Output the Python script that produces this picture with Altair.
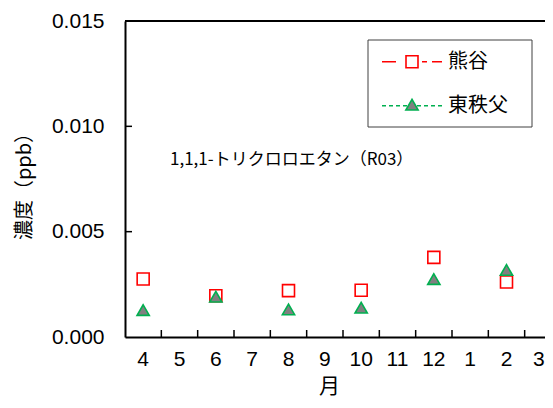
import altair as alt
import pandas as pd

# ---- data ----
months = ["4", "5", "6", "7", "8", "9", "10", "11", "12", "1", "2", "3"]
sample_months = ["4", "6", "8", "10", "12", "2"]
kumagaya = [0.00275, 0.00196, 0.00220, 0.00222, 0.00378, 0.00261]
higashichichibu = [0.00128, 0.00191, 0.00131, 0.00139, 0.00275, 0.00318]
series_names = ["熊谷", "東秩父"]
y_tick_values = [0.0, 0.005, 0.010, 0.015]
inner_y_ticks = [0.005, 0.010]
boundary_months = months[:-1]
annotation = "1,1,1-トリクロロエタン（R03）"
x_title = "月"
y_title = "濃度（ppb）"

# ---- layout ----
W = 420          # visible plot width (svg must fit the window)
X_RANGE = 436    # full band range (runs past the window edge like the reference)
H = 316
JP = "Noto Sans CJK JP"
NUM = "Liberation Sans"
RED = "#FF0000"
GREEN = "#00B050"
GRAY = "#808080"

df = pd.DataFrame({
    "month": sample_months * 2,
    "value": kumagaya + higashichichibu,
    "site": [series_names[0]] * len(kumagaya) + [series_names[1]] * len(higashichichibu),
})
one = alt.InlineData(values=[{}])

x_scale = alt.Scale(type="band", domain=months, range=[0, X_RANGE], paddingInner=0, paddingOuter=0)
y_scale = alt.Scale(domain=[0, 0.015], nice=False, zero=True)

last_month = months[-1]
x_axis = alt.Axis(
    labelAngle=0, labelFontSize=21, labelFont=NUM, labelColor="black", labelPadding=11,
    labelOffset=alt.expr(f"datum.value == '{last_month}' ? -4 : 0"),
    tickSize=0, ticks=False, domainColor="black", domainWidth=2, grid=False,
    title=x_title, titleFont=JP, titleFontSize=21, titleFontWeight="normal", titleColor="black",
    titleX=204, titleY=49, titleBaseline="middle", titleAlign="center",
)
y_axis = alt.Axis(
    values=y_tick_values, format=".3f", labelFontSize=21, labelFont=NUM, labelColor="black",
    labelPadding=21, tickSize=0, ticks=False, domainColor="black", domainWidth=2, grid=False,
    title=y_title, titleFont=JP, titleFontSize=20, titleFontWeight="normal", titleColor="black",
    titleAngle=270, titleX=-101, titleY=160, titleBaseline="middle", titleAlign="center",
)

base = alt.Chart(df)

squares = base.transform_filter(alt.datum.site == series_names[0]).mark_point(
    shape="square", size=144, filled=True, fill="white", stroke=RED, strokeWidth=1.6, opacity=1
).encode(
    x=alt.X("month:N", scale=x_scale, axis=x_axis),
    y=alt.Y("value:Q", scale=y_scale, axis=y_axis),
)
triangles = base.transform_filter(alt.datum.site == series_names[1]).mark_point(
    shape="triangle-up", size=150, filled=True, fill=GRAY, stroke=GREEN, strokeWidth=1.6, opacity=1
).encode(
    x=alt.X("month:N", scale=x_scale, axis=x_axis),
    y=alt.Y("value:Q", scale=y_scale, axis=y_axis),
)

# top frame line
top_line = alt.Chart(one).mark_rule(color="black", strokeWidth=2).encode(
    x=alt.value(0), x2=alt.value(X_RANGE), y=alt.value(0)
)

# inward ticks
y_ticks = alt.Chart(pd.DataFrame({"value": inner_y_ticks})).mark_rule(color="black", strokeWidth=1.5).encode(
    y=alt.Y("value:Q", scale=y_scale, axis=y_axis), x=alt.value(0), x2=alt.value(7)
)
x_ticks = alt.Chart(pd.DataFrame({"month": boundary_months})).mark_rule(color="black", strokeWidth=1.5).encode(
    x=alt.X("month:N", scale=x_scale, axis=x_axis, bandPosition=1), y=alt.value(H), y2=alt.value(H - 7)
)

# annotation
note = alt.Chart(one).mark_text(
    align="left", baseline="middle", font=JP, fontSize=17, color="black"
).encode(x=alt.value(45), y=alt.value(139), text=alt.value(annotation))

# legend (drawn by hand)
LX0, LX1, LY0, LY1 = 243, 407, 19, 106
ROW1, ROW2 = 40.7, 84.7
legend_box = alt.Chart(one).mark_rect(fill="white", stroke="#404040", strokeWidth=1).encode(
    x=alt.value(LX0), x2=alt.value(LX1), y=alt.value(LY0), y2=alt.value(LY1)
)
leg_line1 = alt.Chart(one).mark_rule(color=RED, strokeWidth=1.6, strokeDash=[14, 26, 5, 5, 10]).encode(
    x=alt.value(257), x2=alt.value(317), y=alt.value(ROW1)
)
leg_line2 = alt.Chart(one).mark_rule(color=GREEN, strokeWidth=1.6, strokeDash=[4, 3]).encode(
    x=alt.value(257), x2=alt.value(317), y=alt.value(ROW2)
)
leg_sym1 = alt.Chart(one).mark_point(
    shape="square", size=144, filled=True, fill="white", stroke=RED, strokeWidth=1.6, opacity=1
).encode(x=alt.value(287), y=alt.value(ROW1))
leg_sym2 = alt.Chart(one).mark_point(
    shape="triangle-up", size=150, filled=True, fill=GRAY, stroke=GREEN, strokeWidth=1.6, opacity=1
).encode(x=alt.value(287), y=alt.value(ROW2 - 1))
leg_txt1 = alt.Chart(one).mark_text(align="left", baseline="middle", font=JP, fontSize=20, color="black").encode(
    x=alt.value(323), y=alt.value(ROW1), text=alt.value(series_names[0])
)
leg_txt2 = alt.Chart(one).mark_text(align="left", baseline="middle", font=JP, fontSize=20, color="black").encode(
    x=alt.value(323), y=alt.value(ROW2), text=alt.value(series_names[1])
)

chart = alt.layer(
    squares, triangles, top_line, y_ticks, x_ticks, note, legend_box, leg_line1, leg_line2,
    leg_sym1, leg_sym2, leg_txt1, leg_txt2,
).properties(
    width=W, height=H,
    autosize=alt.AutoSizeParams(type="none"),
    padding={"left": 117, "top": 13, "right": 0, "bottom": 63},
).configure_view(stroke=None).configure(background="white")

chart.save("out.html", embed_options={"renderer": "svg", "actions": False})
